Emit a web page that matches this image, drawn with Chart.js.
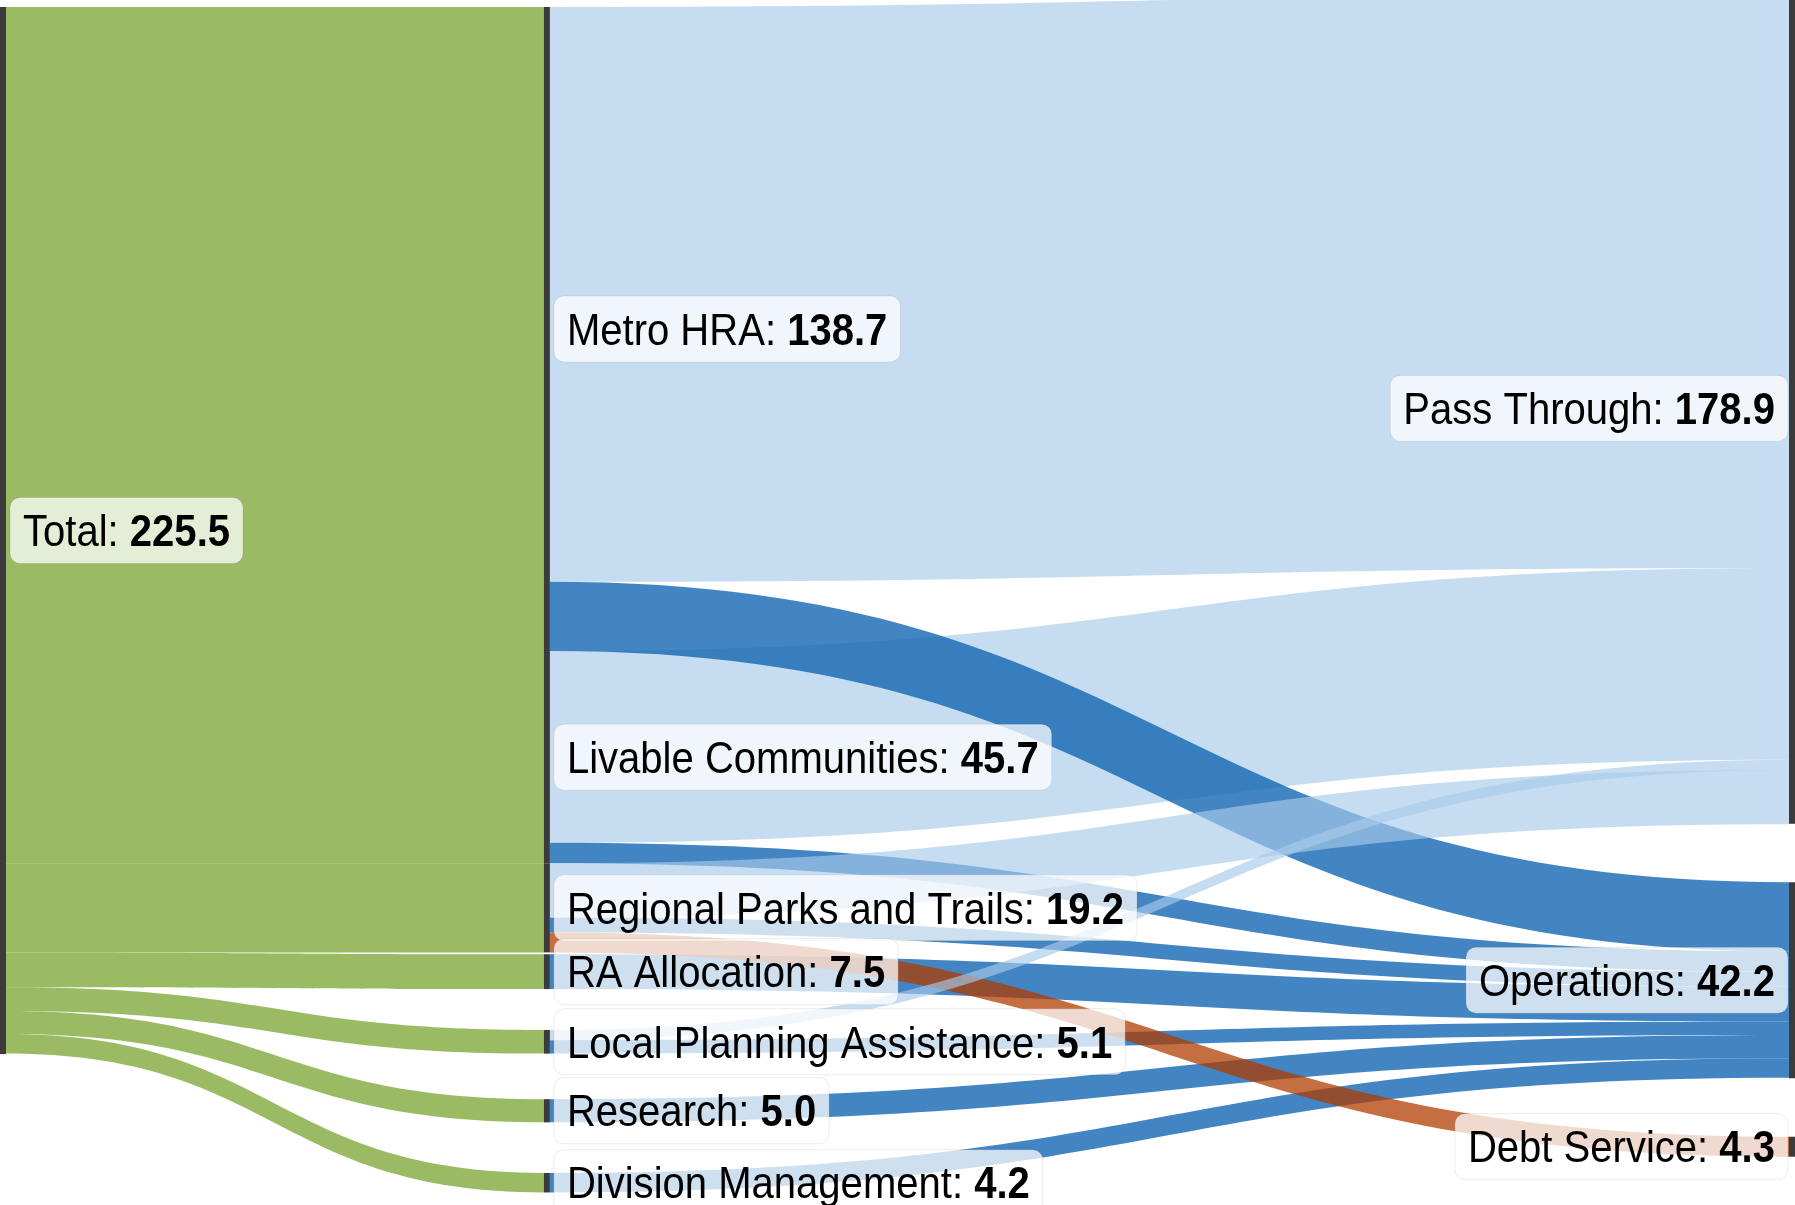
<!DOCTYPE html>
<html>
<head>
<meta charset="utf-8">
<script src="https://cdn.jsdelivr.net/npm/chart.js@4/dist/chart.umd.min.js"></script>
<style>
  html, body { margin: 0; padding: 0; background: #fff; overflow: hidden; }
  canvas { display: block; }
</style>
</head>
<body>
<canvas id="chart" width="1795" height="1205"></canvas>
<script>
// nodes (label values shown next to each bar)
const nodeNames = [
  "Total",
  "Metro HRA", "Livable Communities", "Regional Parks and Trails", "RA Allocation",
  "Local Planning Assistance", "Research", "Division Management",
  "Pass Through", "Operations", "Debt Service"
];
const nodeColumns = [0, 1, 1, 1, 1, 1, 1, 1, 2, 2, 2];
const nodeValues = [225.5, 138.7, 45.7, 19.2, 7.5, 5.1, 5.0, 4.2, 178.9, 42.2, 4.3];

// flows, in the order they stack at their nodes
const linkFrom = [
  "Total", "Total", "Total", "Total", "Total", "Total", "Total",
  "Metro HRA", "Livable Communities", "Local Planning Assistance", "Regional Parks and Trails",
  "Metro HRA", "Livable Communities", "Regional Parks and Trails", "RA Allocation",
  "Local Planning Assistance", "Research", "Division Management",
  "Regional Parks and Trails"
];
const linkTo = [
  "Metro HRA", "Livable Communities", "Regional Parks and Trails", "RA Allocation",
  "Local Planning Assistance", "Research", "Division Management",
  "Pass Through", "Pass Through", "Pass Through", "Pass Through",
  "Operations", "Operations", "Operations", "Operations",
  "Operations", "Operations", "Operations",
  "Debt Service"
];
const linkValues = [
  138.7, 45.7, 19.2, 7.5, 5.1, 5.0, 4.2,
  123.8, 41.3, 2.2, 11.7,
  14.9, 4.4, 3.2, 7.5,
  2.9, 5.0, 4.2,
  4.3
];

// layout: column positions on the x scale, spacing before each node (value units)
const columnX = [0, 0.303, 1];
const nodeGapBefore = [0, 0, 0, 0, 0.4, 8.8, 9.8, 10.9, -3.0, 12.6, 12.6];
const NODE_W = 6;
// paint order of each flow (higher is drawn later)
const linkLayer = [
  0, 0, 0, 0, 0, 0, 0,
  1, 1, 4, 4,
  2, 2, 2, 2,
  2, 2, 2,
  3
];

// flow colours keyed by target node
const flowColors = {
  "Pass Through": "rgba(168, 203, 234, 0.65)",
  "Operations": "rgba(16, 100, 178, 0.79)",
  "Debt Service": "rgba(175, 60, 0, 0.74)",
  default: "rgba(129, 169, 61, 0.8)"
};

const FONT = '"Liberation Sans", Arial, Helvetica, sans-serif';
const FONT_SIZE = 44;
const TEXT_SX = 0.91; // labels are drawn slightly condensed

const sankeyPlugin = {
  id: "sankey",
  afterDraw(chart) {
    const ctx = chart.ctx;
    const xs = chart.scales.x;
    const ys = chart.scales.y;
    const lastCol = Math.max(...nodeColumns);

    // stack nodes inside their columns
    const nodeTop = {};
    const colCursor = {};
    nodeNames.forEach((name, i) => {
      const c = nodeColumns[i];
      const start = (colCursor[c] ?? 0) + nodeGapBefore[i];
      nodeTop[name] = start;
      colCursor[c] = start + nodeValues[i];
    });

    const nodeLeft = (name) => {
      const c = nodeColumns[nodeNames.indexOf(name)];
      const px = xs.getPixelForValue(columnX[c]);
      return c === lastCol ? px - NODE_W : px;
    };

    // place flows
    const outCursor = { ...nodeTop };
    const inCursor = { ...nodeTop };
    const flows = linkValues.map((v, i) => {
      const s = linkFrom[i], t = linkTo[i];
      const f = { s, t, v, sy: outCursor[s], ty: inCursor[t], layer: linkLayer[i] };
      outCursor[s] += v;
      inCursor[t] += v;
      f.color = flowColors[t] || flowColors.default;
      return f;
    });

    ctx.save();
    flows
      .slice()
      .sort((a, b) => a.layer - b.layer)
      .forEach((f) => {
        const x0 = nodeLeft(f.s) + NODE_W;
        const x1 = nodeLeft(f.t);
        const xm = (x0 + x1) / 2;
        const y0a = ys.getPixelForValue(f.sy);
        const y0b = ys.getPixelForValue(f.sy + f.v);
        const y1a = ys.getPixelForValue(f.ty);
        const y1b = ys.getPixelForValue(f.ty + f.v);
        ctx.beginPath();
        ctx.moveTo(x0, y0a);
        ctx.bezierCurveTo(xm, y0a, xm, y1a, x1, y1a);
        ctx.lineTo(x1, y1b);
        ctx.bezierCurveTo(xm, y1b, xm, y0b, x0, y0b);
        ctx.closePath();
        ctx.fillStyle = f.color;
        ctx.fill();
      });

    // node bars
    ctx.fillStyle = "#3b3b3b";
    nodeNames.forEach((name, i) => {
      const top = ys.getPixelForValue(nodeTop[name]);
      const bot = ys.getPixelForValue(nodeTop[name] + nodeValues[i]);
      ctx.fillRect(nodeLeft(name), top, NODE_W, bot - top);
    });

    // labels
    const fontNormal = FONT_SIZE + "px " + FONT;
    const fontBold = "bold " + FONT_SIZE + "px " + FONT;
    const padX = 13, boxH = 66;
    nodeNames.forEach((name, i) => {
      const c = nodeColumns[i];
      const head = name + ": ";
      const val = nodeValues[i].toFixed(1);
      ctx.font = fontNormal;
      const w1 = ctx.measureText(head).width;
      ctx.font = fontBold;
      const w2 = ctx.measureText(val).width;
      const boxW = (w1 + w2) * TEXT_SX + padX * 2;
      const cy = ys.getPixelForValue(nodeTop[name] + nodeValues[i] / 2);
      const bx = c === lastCol ? nodeLeft(name) - 1 - boxW : nodeLeft(name) + NODE_W + 4;
      const by = cy - boxH / 2;

      ctx.beginPath();
      ctx.roundRect(bx, by, boxW, boxH, 10);
      ctx.fillStyle = "rgba(255, 255, 255, 0.74)";
      ctx.fill();
      ctx.strokeStyle = "rgba(0, 0, 0, 0.08)";
      ctx.lineWidth = 1;
      ctx.stroke();

      ctx.save();
      ctx.translate(bx + padX, cy + FONT_SIZE * 0.716 / 2);
      ctx.scale(TEXT_SX, 1);
      ctx.fillStyle = "#000";
      ctx.textBaseline = "alphabetic";
      ctx.textAlign = "left";
      ctx.font = fontNormal;
      ctx.fillText(head, 0, 0);
      ctx.font = fontBold;
      ctx.fillText(val, w1, 0);
      ctx.restore();
    });
    ctx.restore();
  }
};

new Chart(document.getElementById("chart"), {
  type: "scatter",
  data: { datasets: [] },
  options: {
    responsive: false,
    animation: false,
    layout: { padding: 0 },
    plugins: {
      legend: { display: false },
      tooltip: { enabled: false }
    },
    scales: {
      x: { type: "linear", min: 0, max: 1, display: false },
      y: { type: "linear", min: -1.5, max: 258, reverse: true, display: false }
    }
  },
  plugins: [sankeyPlugin]
});
</script>
</body>
</html>
